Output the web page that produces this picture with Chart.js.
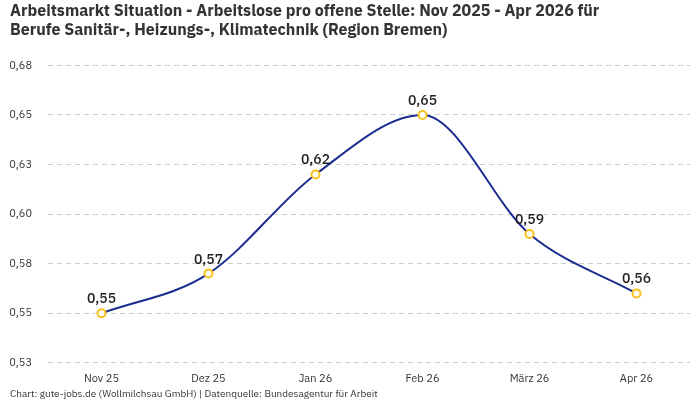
<!DOCTYPE html>
<html lang="de">
<head>
<meta charset="utf-8">
<title>Arbeitsmarkt Situation</title>
<script src="https://cdn.jsdelivr.net/npm/chart.js@4.4.1/dist/chart.umd.min.js"></script>
<style>
  html, body { margin: 0; padding: 0; background: #ffffff; }
  #wrap { width: 700px; height: 400px; }
</style>
</head>
<body>
<div id="wrap"><canvas id="chart" width="700" height="400"></canvas></div>
<script>
// Monate (x-Achse)
const months = ['Nov 25', 'Dez 25', 'Jan 26', 'Feb 26', 'März 26', 'Apr 26'];
// Arbeitslose pro offene Stelle
const ratio = [0.55, 0.57, 0.62, 0.65, 0.59, 0.56];
// Beschriftung der y-Achse (0,525 ... 0,675 in 0,025er Schritten)
const yTickLabels = ['0,53', '0,55', '0,58', '0,60', '0,63', '0,65', '0,68'];

const FONT = "'IBM Plex Sans', Roboto, 'Noto Sans', sans-serif";

// Werte über den Punkten anzeigen
const valueLabels = {
    id: 'valueLabels',
    afterDatasetsDraw(chart) {
        const ctx = chart.ctx;
        const meta = chart.getDatasetMeta(0);
        ctx.save();
        ctx.font = '500 14px ' + FONT;
        ctx.fillStyle = '#222222';
        ctx.textAlign = 'center';
        ctx.textBaseline = 'alphabetic';
        meta.data.forEach((pt, i) => {
            const txt = ratio[i].toFixed(2).replace('.', ',');
            ctx.fillText(txt, pt.x, pt.y - 10);
        });
        ctx.restore();
    }
};

const ctx = document.getElementById('chart').getContext('2d');
new Chart(ctx, {
    type: 'line',
    data: {
        labels: months,
        datasets: [{
            data: ratio,
            borderColor: '#1c2d92',
            borderWidth: 2,
            tension: 0.4,
            cubicInterpolationMode: 'monotone',
            pointRadius: 4,
            pointBorderWidth: 2,
            pointBackgroundColor: '#ffffff',
            pointBorderColor: '#f7c21b',
            fill: false
        }]
    },
    options: {
        responsive: false,
        animation: false,
        layout: { padding: { left: 10, right: 10, top: 2, bottom: 0 } },
        scales: {
            x: {
                offset: true,
                grid: { display: false },
                border: { display: false },
                ticks: { color: '#333333', font: { family: FONT, size: 11 }, padding: 1 }
            },
            y: {
                min: 0.525,
                max: 0.675,
                grid: { color: '#cccccc', tickLength: 0 },
                border: { display: false, dash: [5, 4] },
                afterFit: (scale) => { scale.width = 38; },
                ticks: {
                    stepSize: 0.025,
                    color: '#333333',
                    padding: 16,
                    font: { family: FONT, size: 11 },
                    callback: (v, i) => yTickLabels[i]
                }
            }
        },
        plugins: {
            legend: { display: false },
            tooltip: { enabled: false },
            title: {
                display: true,
                text: ['Arbeitsmarkt Situation - Arbeitslose pro offene Stelle: Nov 2025 - Apr 2026 für',
                       'Berufe Sanitär-, Heizungs-, Klimatechnik (Region Bremen)'],
                align: 'start',
                color: '#333333',
                font: { family: FONT, size: 16, weight: 'bold', lineHeight: 1.2 },
                padding: { top: 0, bottom: 25 }
            },
            subtitle: {
                display: true,
                position: 'bottom',
                align: 'start',
                text: 'Chart: gute-jobs.de (Wollmilchsau GmbH) | Datenquelle: Bundesagentur für Arbeit',
                color: '#333333',
                font: { family: FONT, size: 10 },
                padding: { top: 2, bottom: 0 }
            }
        }
    },
    plugins: [valueLabels]
});
</script>
</body>
</html>
